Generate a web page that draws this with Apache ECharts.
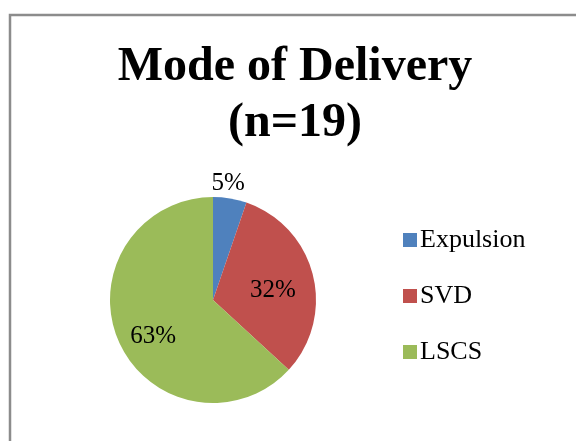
<!DOCTYPE html>
<html>
<head>
<meta charset="utf-8">
<script src="https://cdn.jsdelivr.net/npm/echarts@6/dist/echarts.min.js"></script>
<style>
html,body{margin:0;padding:0;background:#fff;}
#chart{width:576px;height:441px;}
</style>
</head>
<body>
<div id="chart"></div>
<script>
const categories = ['Expulsion', 'SVD', 'LSCS'];
const counts = [1, 6, 12];
const colors = ['#4F81BD', '#C0504D', '#9BBB59'];
const titleText = 'Mode of Delivery\n(n=19)';

const serif = '"Liberation Serif", "Times New Roman", serif';
// label placement tweaks (style, not data)
const labelStyles = [
  { position: 'outside', offset: [-24, -11] },
  { position: 'inside', offset: [7, 4] },
  { position: 'inside', offset: [-10, 15] }
];

const chart = echarts.init(document.getElementById('chart'), null, { renderer: 'canvas' });
const total = counts.reduce((a, b) => a + b, 0);

chart.setOption({
  animation: false,
  backgroundColor: '#ffffff',
  graphic: [{
    type: 'rect',
    shape: { x: 10, y: 15, width: 620, height: 500 },
    style: { fill: 'none', stroke: '#8c8c8c', lineWidth: 2.5 },
    silent: true,
    z: -1
  }],
  title: {
    text: titleText,
    left: 290,
    top: 35,
    textAlign: 'center',
    textStyle: {
      fontFamily: serif,
      fontWeight: 'bold',
      fontSize: 48,
      lineHeight: 56,
      color: '#000'
    }
  },
  legend: {
    orient: 'vertical',
    left: 398,
    top: 222,
    itemWidth: 14,
    itemHeight: 14,
    itemGap: 30,
    icon: 'rect',
    data: categories,
    textStyle: { fontFamily: serif, fontSize: 26, color: '#000', padding: [0, 0, 0, -2] }
  },
  series: [{
    type: 'pie',
    center: [213, 300],
    radius: 103,
    startAngle: 90,
    clockwise: true,
    avoidLabelOverlap: false,
    label: {
      fontFamily: serif,
      fontSize: 25,
      color: '#000',
      formatter: p => Math.round(p.value / total * 100) + '%'
    },
    labelLine: { show: false, length: 4, length2: 0 },
    itemStyle: { borderWidth: 0 },
    emphasis: { disabled: true },
    data: categories.map((c, i) => ({
      name: c,
      value: counts[i],
      itemStyle: { color: colors[i] },
      label: labelStyles[i]
    }))
  }]
});
</script>
</body>
</html>
